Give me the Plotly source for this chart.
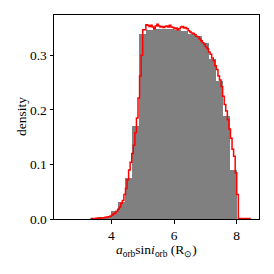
import numpy as np
import plotly.graph_objects as go

# Gray histogram (coarse bins)
gray_start = 3.3333
gray_width = 0.22222
gray_heights = [0.001, 0.002, 0.004, 0.014, 0.031, 0.075, 0.170, 0.339, 0.346, 0.348,
                0.348, 0.348, 0.347, 0.345, 0.340, 0.335, 0.322, 0.293, 0.253, 0.188, 0.090]

# Red step histogram (fine bins)
red_start = 3.35
red_width = 0.05
red_heights = [0.001, 0.001, 0.001, 0.0012, 0.0015, 0.0015, 0.002, 0.002, 0.0025, 0.003,
               0.0035, 0.004, 0.005, 0.007, 0.009, 0.011, 0.014, 0.018, 0.022, 0.029,
               0.034, 0.045, 0.056, 0.072, 0.090, 0.104, 0.120, 0.135, 0.158, 0.185,
               0.222, 0.262, 0.300, 0.347, 0.347, 0.356, 0.355, 0.353, 0.355, 0.352,
               0.349, 0.354, 0.357, 0.354, 0.352, 0.353, 0.351, 0.353, 0.354, 0.352,
               0.355, 0.352, 0.351, 0.349, 0.350, 0.347, 0.349, 0.352, 0.353, 0.350,
               0.351, 0.349, 0.345, 0.343, 0.341, 0.340, 0.338, 0.335, 0.334, 0.330,
               0.327, 0.323, 0.320, 0.316, 0.312, 0.306, 0.302, 0.295, 0.290, 0.281,
               0.274, 0.262, 0.255, 0.243, 0.225, 0.210, 0.198, 0.182, 0.165, 0.148,
               0.128, 0.115, 0.085, 0.045, 0.0008, 0.0008, 0.0008, 0.0008, 0.0008, 0.0008,
               0.0008, 0.0008]

x_ticks = [4, 6, 8]
y_ticks = [0.0, 0.1, 0.2, 0.3]
y_ticktext = ["0.0", "0.1", "0.2", "0.3"]
x_title = "<i>a</i><sub>orb</sub>sin<i>i</i><sub>orb</sub> (R<sub>⊙</sub>)"
y_title = "density"

gray_centers = gray_start + gray_width * (np.arange(len(gray_heights)) + 0.5)
red_edges = red_start + red_width * np.arange(len(red_heights) + 1)
red_y = list(red_heights) + [red_heights[-1]]

fig = go.Figure()
fig.add_trace(go.Bar(
    x=gray_centers, y=gray_heights, width=gray_width,
    marker=dict(color="rgb(128,128,128)", line=dict(width=0)),
    showlegend=False,
))
fig.add_trace(go.Scatter(
    x=red_edges, y=red_y, mode="lines", line=dict(color="red", width=1.5, shape="hv"),
    showlegend=False,
))

font = dict(family="Liberation Serif", size=13.5, color="black")
fig.update_layout(
    width=274, height=274,
    margin=dict(l=54, r=15, t=15, b=55),
    paper_bgcolor="white", plot_bgcolor="white",
    bargap=0, font=font, hovermode=False,
    annotations=[
        dict(text=x_title, xref="paper", yref="paper", x=0.5, y=0, xanchor="center",
             yanchor="top", yshift=-21, showarrow=False, font=font),
        dict(text=y_title, xref="paper", yref="paper", x=0, y=0.5, xanchor="center",
             yanchor="middle", xshift=-33, textangle=-90, showarrow=False, font=font),
    ],
)
fig.update_xaxes(
    range=[2.17, 8.71], tickvals=x_ticks, ticks="outside", ticklen=3.5, tickwidth=0.8,
    tickcolor="black", showline=True, linecolor="black", linewidth=1, mirror=True,
    showgrid=False, zeroline=False, tickfont=font, automargin=False,
)
fig.update_yaxes(
    range=[0, 0.374], tickvals=y_ticks, ticktext=y_ticktext, ticks="outside", ticklen=3.5,
    tickwidth=0.8, tickcolor="black", showline=True, linecolor="black", linewidth=1, mirror=True,
    showgrid=False, zeroline=False, tickfont=font, automargin=False,
)
fig.write_html("out.html", config={"displayModeBar": False},
               post_script="document.body.style.margin='0';document.body.style.overflow='hidden';")
